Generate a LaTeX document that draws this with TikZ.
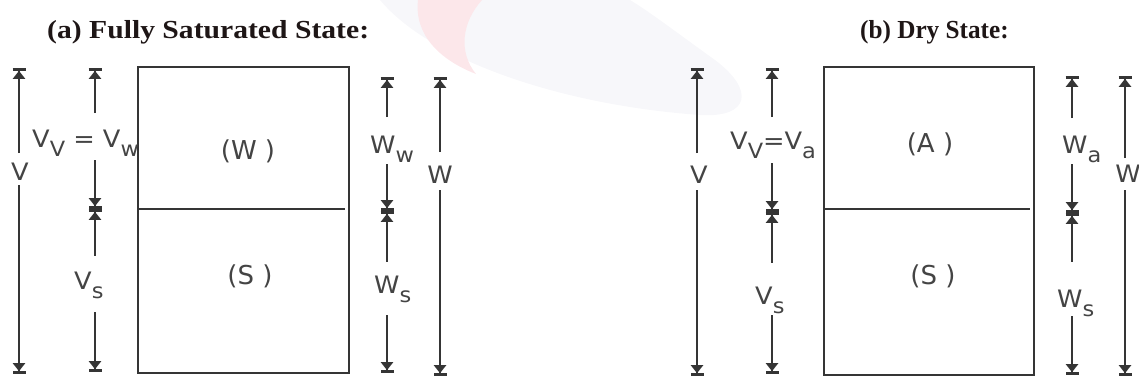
\documentclass[tikz,border=0pt]{standalone}
\usepackage{fontspec}
\setmainfont{Liberation Serif}
\newfontfamily\lblfont{DejaVu Sans}
\usetikzlibrary{arrows.meta}

\definecolor{ink}{HTML}{353535}
\definecolor{lblgrey}{HTML}{444444}
\definecolor{titleink}{HTML}{1E1616}
\definecolor{wmpink}{HTML}{FCE7EA}
\definecolor{wmgrey}{HTML}{F7F7FA}

% lowered subscript letter
\newcommand{\sbs}[1]{\raisebox{-9pt}{\fontsize{21}{21}\selectfont #1}}

\tikzset{
  heading/.style={font=\bfseries\fontsize{26}{26}\selectfont, text=titleink, anchor=base west, inner sep=0pt},
  lbl/.style={font=\lblfont\fontsize{24}{24}\selectfont, text=lblgrey, inner sep=0pt, xscale=1.07},
  phaselbl/.style={font=\lblfont\fontsize{26}{26}\selectfont, text=lblgrey, inner sep=0pt, anchor=base},
  phase/.style={draw=ink, line width=2.4pt},
  dim/.style={draw=ink, line width=2.2pt},
  tipout/.style={-{Triangle[length=8pt,width=12pt]Bar[width=13pt,line width=2.8pt]}},
  tipin/.style={{Bar[width=13pt,line width=2.8pt]Triangle[length=8pt,width=12pt]}-},
}

\begin{document}
\begin{tikzpicture}[x=1pt,y=-1pt]
\useasboundingbox (0,0) rectangle (1139,381);

% faint logo swoosh in the background
\fill[wmgrey] (380,0) .. controls (430,60) and (560,105) .. (700,115)
  .. controls (750,118) and (755,90) .. (715,60) .. controls (680,35) and (650,12) .. (630,0) -- cycle;
\fill[wmpink] (418,0) .. controls (414,35) and (440,60) .. (476,74)
  .. controls (458,52) and (462,22) .. (482,0) -- cycle;

% ---------------- (a) fully saturated state ----------------
\node[heading, xscale=1.14] (ta) at (47,38) {(a) Fully Saturated State:};

\draw[phase] (138,67) rectangle (349,373);
\draw[phase] (138,209) -- (345,209);
\node[phaselbl] (aW) at (248,159) {(W )};
\node[phaselbl] (aS) at (250,284) {(S )};

% total volume V
\coordinate (aVt) at (19,68);  \coordinate (aVu) at (19,153);
\coordinate (aVl) at (19,185); \coordinate (aVb) at (19,374);
\node[lbl, anchor=base] (aV) at (20,180) {V};
\draw[dim,tipout] (aVu) -- (aVt);
\draw[dim,tipout] (aVl) -- (aVb);

% volumes of voids and solids
\coordinate (aiT) at (95,68);  \coordinate (ai1) at (95,113);
\coordinate (ai2) at (95,160); \coordinate (aiM) at (95,209);
\coordinate (ai3) at (95,256); \coordinate (ai4) at (95,312);
\coordinate (aiB) at (95,372);
\node[lbl, anchor=base west] (aVV) at (32,147) {V\sbs{V} = V\sbs{w}};
\node[lbl, anchor=base west] (aVs) at (74,289) {V\sbs{s}};
\draw[dim,tipout] (ai1) -- (aiT);
\draw[dim,tipout] (ai2) -- (aiM);
\draw[dim,tipin]  (aiM) -- (ai3);
\draw[dim,tipout] (ai4) -- (aiB);

% weights of water and solids
\coordinate (arT) at (387,77);  \coordinate (ar1) at (387,117);
\coordinate (ar2) at (387,164); \coordinate (arM) at (387,211);
\coordinate (ar3) at (387,262); \coordinate (ar4) at (387,315);
\coordinate (arB) at (387,373);
\node[lbl, anchor=base west] (aWw) at (370,153) {W\sbs{w}};
\node[lbl, anchor=base west] (aWs) at (374,293) {W\sbs{s}};
\draw[dim,tipout] (ar1) -- (arT);
\draw[dim,tipout] (ar2) -- (arM);
\draw[dim,tipin]  (arM) -- (ar3);
\draw[dim,tipout] (ar4) -- (arB);

% total weight W
\coordinate (aWt) at (440,77);  \coordinate (aWu) at (440,152);
\coordinate (aWl) at (440,190); \coordinate (aWb) at (440,376);
\node[lbl, anchor=base] (aWtot) at (440,183) {W};
\draw[dim,tipout] (aWu) -- (aWt);
\draw[dim,tipout] (aWl) -- (aWb);

% ---------------- (b) dry state ----------------
\node[heading, xscale=0.97] (tb) at (860,38) {(b) Dry State:};

\draw[phase] (824,67) rectangle (1034,375);
\draw[phase] (824,209) -- (1030,209);
\node[phaselbl] (bA) at (930,152) {(A )};
\node[phaselbl] (bS) at (933,284) {(S )};

% total volume V
\coordinate (bVt) at (697,68);  \coordinate (bVu) at (697,153);
\coordinate (bVl) at (697,190); \coordinate (bVb) at (697,376);
\node[lbl, anchor=base] (bV) at (699,183) {V};
\draw[dim,tipout] (bVu) -- (bVt);
\draw[dim,tipout] (bVl) -- (bVb);

% volumes of voids and solids
\coordinate (biT) at (772,68);  \coordinate (bi1) at (772,117);
\coordinate (bi2) at (772,163); \coordinate (biM) at (772,212);
\coordinate (bi3) at (772,263); \coordinate (bi4) at (772,315);
\coordinate (biB) at (772,374);
\node[lbl, anchor=base west] (bVV) at (730,149) {V\sbs{V}=V\sbs{a}};
\node[lbl, anchor=base west] (bVs) at (755,304) {V\sbs{s}};
\draw[dim,tipout] (bi1) -- (biT);
\draw[dim,tipout] (bi2) -- (biM);
\draw[dim,tipin]  (biM) -- (bi3);
\draw[dim,tipout] (bi4) -- (biB);

% weights of air and solids
\coordinate (brT) at (1072,76);  \coordinate (br1) at (1072,118);
\coordinate (br2) at (1072,164); \coordinate (brM) at (1072,213);
\coordinate (br3) at (1072,262); \coordinate (br4) at (1072,316);
\coordinate (brB) at (1072,375);
\node[lbl, anchor=base west] (bWa) at (1062,153) {W\sbs{a}};
\node[lbl, anchor=base west] (bWs) at (1057,307) {W\sbs{s}};
\draw[dim,tipout] (br1) -- (brT);
\draw[dim,tipout] (br2) -- (brM);
\draw[dim,tipin]  (brM) -- (br3);
\draw[dim,tipout] (br4) -- (brB);

% total weight W
\coordinate (bWt) at (1125,76);  \coordinate (bWu) at (1125,158);
\coordinate (bWl) at (1125,190); \coordinate (bWb) at (1125,376);
\node[lbl, anchor=base] (bWtot) at (1128,182) {W};
\draw[dim,tipout] (bWu) -- (bWt);
\draw[dim,tipout] (bWl) -- (bWb);
\end{tikzpicture}
\end{document}
